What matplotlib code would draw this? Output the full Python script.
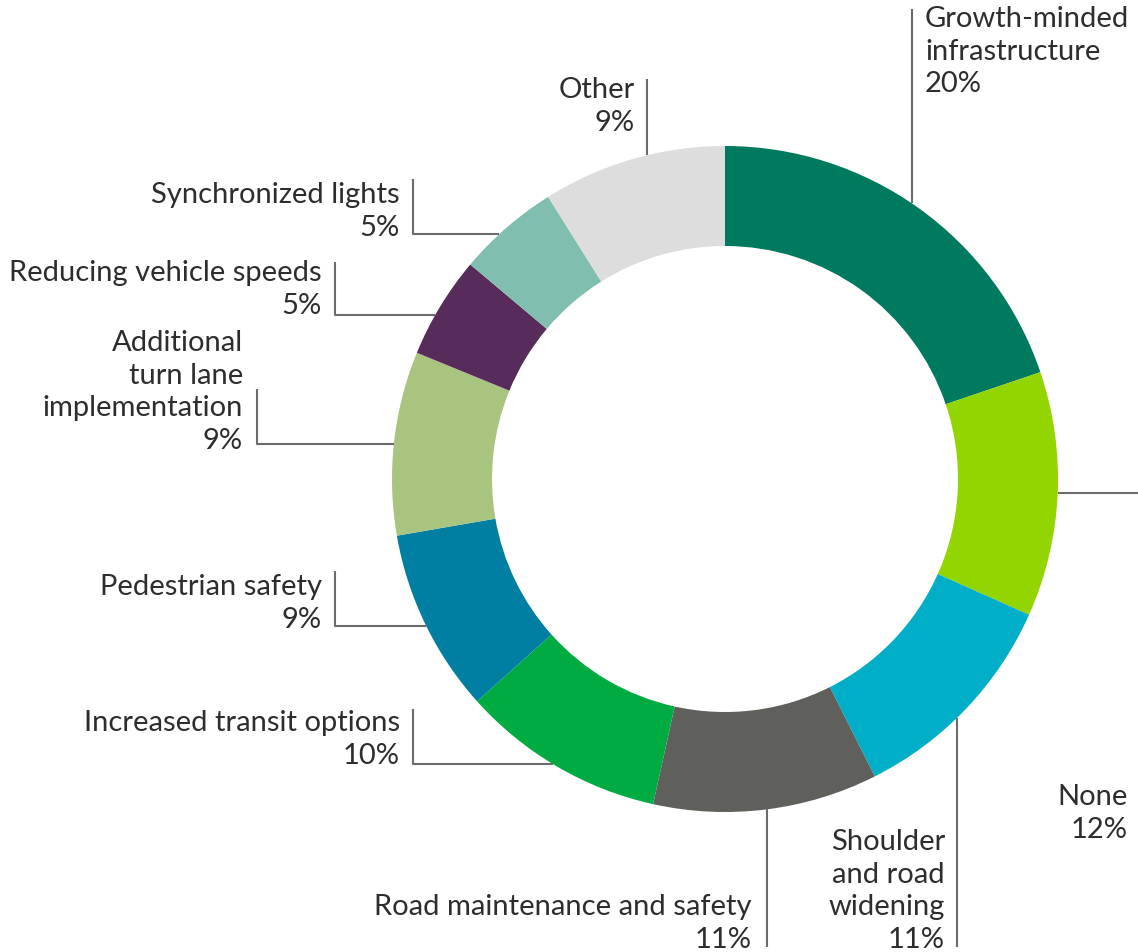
import numpy as np
import matplotlib.pyplot as plt

plt.rcParams['font.family'] = ['Lato', 'DejaVu Sans']

# slices, clockwise from 12 o'clock
categories = ["Growth-minded\ninfrastructure", "None", "Shoulder\nand road\nwidening",
              "Road maintenance and safety", "Increased transit options",
              "Pedestrian safety", "Additional\nturn lane\nimplementation",
              "Reducing vehicle speeds", "Synchronized lights", "Other"]
values = [20, 12, 11, 11, 10, 9, 9, 5, 5, 9]
colors = ["#007a5e", "#93d500", "#00aec7", "#5f605b", "#00ac41",
          "#007fa3", "#a9c47f", "#582c5a", "#80bfb0", "#dddddd"]

W, H = 1138, 953
cx, cy, R = 725, 480, 333   # pixel coords, y from top
TXT = "#2d2d2d"
LINE = "#6b6b6b"

fig = plt.figure(figsize=(W / 100, H / 100), dpi=100)
ax = fig.add_axes([0, 0, 1, 1])

def Y(y):
    return H - y

ax.pie(values, colors=colors, startangle=90, counterclock=False,
       radius=R, center=(cx, Y(cy)),
       wedgeprops=dict(width=100, edgecolor='none'))
ax.set_xlim(0, W)
ax.set_ylim(0, H)
ax.set_aspect('equal')
ax.axis('off')

def edge_x(y, side):
    # x where the outer rim crosses pixel row y
    return cx + side * np.sqrt(R**2 - (y - cy)**2)

def edge_y(x, side):
    return cy + side * np.sqrt(R**2 - (x - cx)**2)

def seg(xs, ys):
    ax.plot(xs, [Y(v) for v in ys], color=LINE, lw=1.5, solid_capstyle='butt')

def label(x, y, text, ha='right', va='bottom'):
    ax.text(x, Y(y), text, ha=ha, va=va, fontsize=21, color=TXT, linespacing=1.31)

# vertical-only leaders
seg([912, 912], [10, edge_y(912, -1)])
seg([647, 647], [80, edge_y(647, -1)])
seg([767, 767], [edge_y(767, 1), 948])
seg([957, 957], [edge_y(957, 1), 948])
# elbow leaders on the left
for lx, top, yh in [(413, 180, 235), (335, 263, 316), (257, 390, 445),
                    (335, 572, 627), (413, 710, 765)]:
    seg([lx, lx, edge_x(yh, -1)], [top, yh, yh])
# None: horizontal stub
seg([edge_x(494, 1), W], [494, 494])

pct = [f"{v}%" for v in values]
label(925, 6, categories[0] + "\n" + pct[0], ha='left', va='top')
label(1128, 843, categories[1] + "\n" + pct[1])
label(945, 953, categories[2] + "\n" + pct[2])
label(752, 953, categories[3] + "\n" + pct[3])
label(400, 769, categories[4] + "\n" + pct[4])
label(322, 633, categories[5] + "\n" + pct[5])
label(243, 454, categories[6] + "\n" + pct[6])
label(322, 319, categories[7] + "\n" + pct[7])
label(400, 241, categories[8] + "\n" + pct[8])
label(635, 136, categories[9] + "\n" + pct[9])

fig.savefig("out.png", dpi=100, facecolor='white')
